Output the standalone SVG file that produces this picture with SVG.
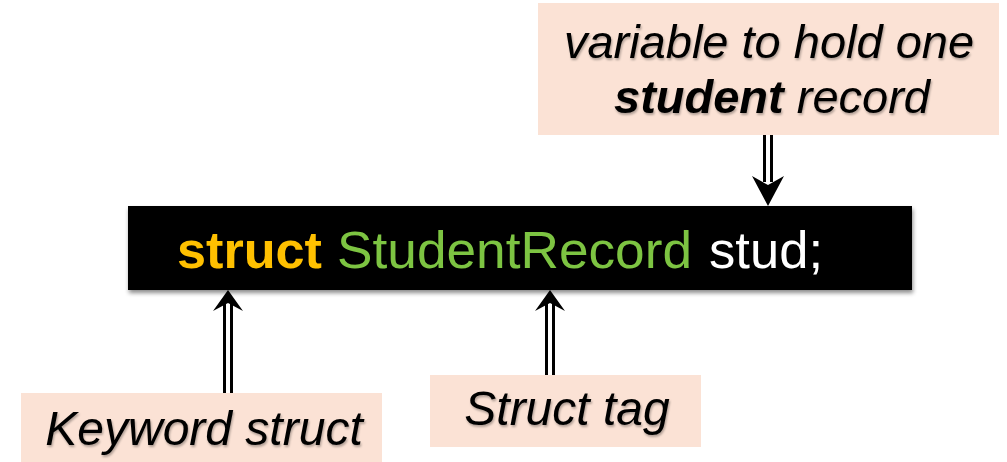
<svg xmlns="http://www.w3.org/2000/svg" width="1007" height="462" viewBox="0 0 1007 462">
<defs>
<style>
.lbl{fill:#FBE2D5}
.t{font-family:"Liberation Sans",Arial,sans-serif;font-style:italic;font-size:47px;fill:#000;text-anchor:middle}
.tb{font-size:48px}
.code{font-family:"Liberation Sans",Arial,sans-serif;font-size:52px}
.shaftO{stroke:#000;stroke-width:10;fill:none}
.shaftI{stroke:#fff;stroke-width:4;fill:none}
.head{fill:#000}
</style>
<filter id="sh" x="-5%" y="-20%" width="110%" height="150%">
<feDropShadow dx="1" dy="3" stdDeviation="2" flood-color="#000" flood-opacity="0.45"/>
</filter>
<filter id="tsh" x="-5%" y="-20%" width="110%" height="150%">
<feDropShadow dx="1" dy="2" stdDeviation="1.2" flood-color="#000" flood-opacity="0.3"/>
</filter>
</defs>
<g id="var-label">
<rect class="lbl" x="538" y="3" width="461" height="132"/>
<text class="t" x="769" y="58" filter="url(#tsh)">variable to hold one</text>
<text class="t" x="772" y="113" filter="url(#tsh)"><tspan font-weight="bold">student</tspan> record</text>
</g>
<g id="code">
<rect x="128" y="206" width="784" height="84" fill="#000" filter="url(#sh)"/>
<text class="code" x="177" y="268" font-weight="bold" fill="#FFC000" textLength="145" lengthAdjust="spacingAndGlyphs">struct</text>
<text class="code" x="337" y="268" fill="#7DC442" textLength="355" lengthAdjust="spacingAndGlyphs">StudentRecord</text>
<text class="code" x="709" y="268" fill="#fff" textLength="114" lengthAdjust="spacingAndGlyphs">stud;</text>
</g>
<g id="keyword-label">
<rect class="lbl" x="21" y="393" width="361" height="69"/>
<text class="t tb" x="204" y="445" filter="url(#tsh)">Keyword struct</text>
</g>
<g id="tag-label">
<rect class="lbl" x="430" y="375" width="271" height="72"/>
<text class="t tb" x="567" y="425" filter="url(#tsh)">Struct tag</text>
</g>
<g id="connectors">
<line class="shaftO" x1="768" y1="135" x2="768" y2="182"/>
<line class="shaftI" x1="768" y1="135" x2="768" y2="182"/>
<path class="head" d="M768,206 L752,176 L768,185 L784,176 Z"/>
<line class="shaftO" x1="228" y1="302" x2="228" y2="393"/>
<line class="shaftI" x1="228" y1="302" x2="228" y2="393"/>
<path class="head" d="M228,290 L213,311 L228,303 L243,311 Z"/>
<line class="shaftO" x1="550" y1="302" x2="550" y2="375"/>
<line class="shaftI" x1="550" y1="302" x2="550" y2="375"/>
<path class="head" d="M550,290 L535,311 L550,303 L565,311 Z"/>
</g>
</svg>
